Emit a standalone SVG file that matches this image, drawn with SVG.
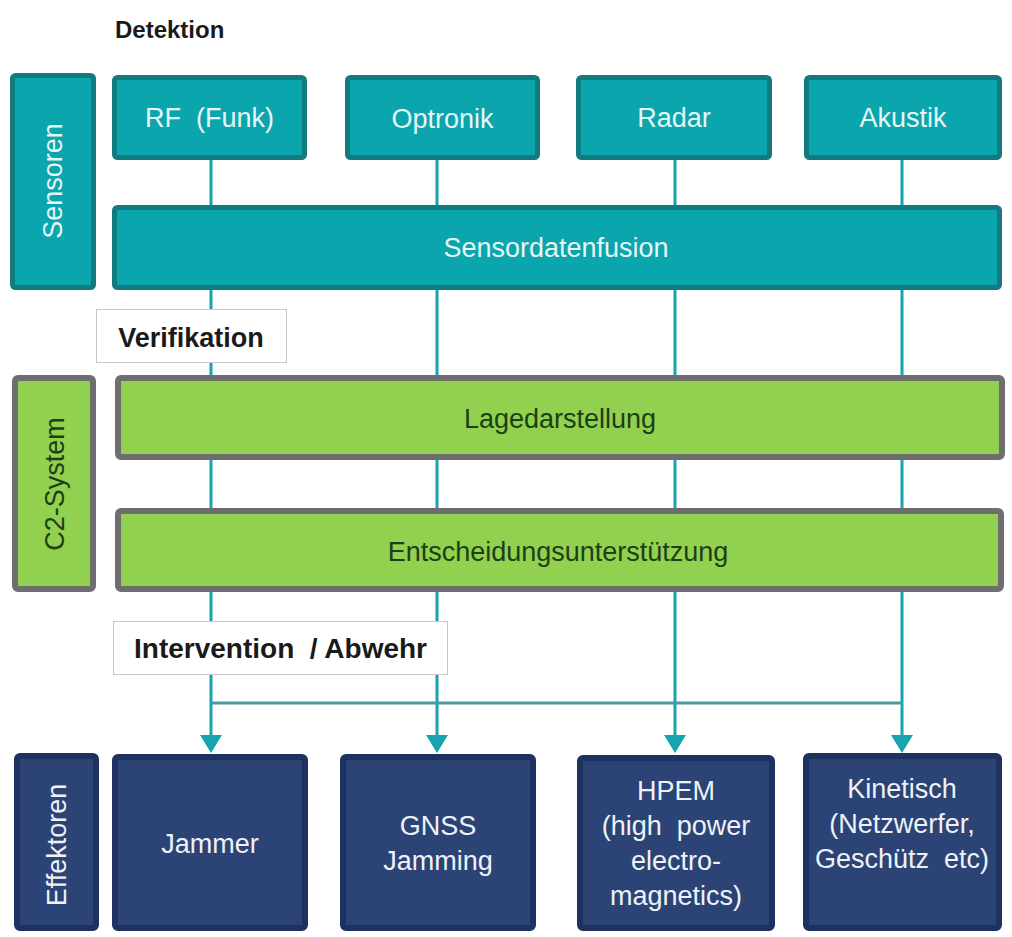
<svg xmlns="http://www.w3.org/2000/svg" width="1012" height="937" viewBox="0 0 1012 937">
<defs>
<style>
.bg{fill:#ffffff}
.teal{fill:#0aa5ad;stroke:#137b80;stroke-width:5}
.green{fill:#92d050;stroke:#6e6e6e;stroke-width:6}
.navy{fill:#2b4475;stroke:#1f3160;stroke-width:6}
.lbl{fill:#ffffff;stroke:#c8c8c8;stroke-width:1}
.t{font-family:"Liberation Sans",Arial,sans-serif;font-size:27px;text-anchor:middle}
.tw{fill:#e6f6f6}
.tg{fill:#1d3f16}
.tn{fill:#eef2f8}
.tb{font-family:"Liberation Sans",Arial,sans-serif;font-weight:bold;fill:#1a1a1a}
.conn{stroke:#17a3af;stroke-width:3;fill:none}
.bus{stroke:#4a9ca2;stroke-width:3;fill:none}
</style>
<marker id="arr" markerUnits="userSpaceOnUse" markerWidth="18" markerHeight="22" viewBox="0 0 18 22" refX="0" refY="11" orient="auto">
<path d="M0,0 L18,11 L0,22 z" fill="#17a3af"/>
</marker>
</defs>
<rect class="bg" x="0" y="0" width="1012" height="937"/>

<g id="connectors">
<line class="conn" x1="211" y1="160" x2="211" y2="735" marker-end="url(#arr)"/>
<line class="conn" x1="437" y1="160" x2="437" y2="735" marker-end="url(#arr)"/>
<line class="conn" x1="675" y1="160" x2="675" y2="735" marker-end="url(#arr)"/>
<line class="conn" x1="902" y1="160" x2="902" y2="735" marker-end="url(#arr)"/>
<line class="bus" x1="211" y1="703" x2="902" y2="703"/>
</g>

<g id="title-detektion"><text class="tb" x="115" y="38" font-size="24">Detektion</text></g>

<g id="side-sensoren">
<rect class="teal" x="12.5" y="75.5" width="81" height="212" rx="3"/>
<text class="t tw" transform="translate(62,181) rotate(-90)">Sensoren</text>
</g>
<g id="node-rf">
<rect class="teal" x="114.5" y="77.5" width="190" height="80" rx="3"/>
<text class="t tw" x="209.5" y="127" xml:space="preserve">RF  (Funk)</text>
</g>
<g id="node-optronik">
<rect class="teal" x="347.5" y="77.5" width="190" height="80" rx="3"/>
<text class="t tw" x="442.5" y="128">Optronik</text>
</g>
<g id="node-radar">
<rect class="teal" x="578.5" y="77.5" width="191" height="80" rx="3"/>
<text class="t tw" x="674" y="127">Radar</text>
</g>
<g id="node-akustik">
<rect class="teal" x="806.5" y="77.5" width="193" height="80" rx="3"/>
<text class="t tw" x="903" y="127">Akustik</text>
</g>
<g id="node-fusion">
<rect class="teal" x="114.5" y="207.5" width="885" height="80" rx="3"/>
<text class="t tw" x="556" y="257">Sensordatenfusion</text>
</g>

<g id="label-verifikation">
<rect class="lbl" x="96.5" y="309.5" width="190" height="53"/>
<text class="tb" x="191" y="347" font-size="27" text-anchor="middle">Verifikation</text>
</g>

<g id="side-c2">
<rect class="green" x="15" y="378" width="78" height="211" rx="3"/>
<text class="t tg" transform="translate(64,484) rotate(-90)">C2-System</text>
</g>
<g id="node-lage">
<rect class="green" x="118" y="378" width="884" height="79" rx="3"/>
<text class="t tg" x="560" y="428">Lagedarstellung</text>
</g>
<g id="node-entscheidung">
<rect class="green" x="118" y="511" width="883" height="78" rx="3"/>
<text class="t tg" x="558" y="561">Entscheidungsunterstützung</text>
</g>

<g id="label-intervention">
<rect class="lbl" x="113.5" y="621.5" width="334" height="53"/>
<text class="tb" x="280.5" y="658" font-size="28" text-anchor="middle" xml:space="preserve">Intervention  / Abwehr</text>
</g>

<g id="side-effektoren">
<rect class="navy" x="17" y="756" width="79" height="172" rx="3"/>
<text class="t tn" transform="translate(66,845) rotate(-90)">Effektoren</text>
</g>
<g id="node-jammer">
<rect class="navy" x="115" y="757" width="190" height="171" rx="3"/>
<text class="t tn" x="210" y="853">Jammer</text>
</g>
<g id="node-gnss">
<rect class="navy" x="343" y="757" width="190" height="171" rx="3"/>
<text class="t tn" x="438" y="835">GNSS</text>
<text class="t tn" x="438" y="870">Jamming</text>
</g>
<g id="node-hpem">
<rect class="navy" x="580" y="758" width="192" height="170" rx="3"/>
<text class="t tn" x="676" y="800">HPEM</text>
<text class="t tn" x="676" y="835" xml:space="preserve">(high  power</text>
<text class="t tn" x="676" y="870">electro-</text>
<text class="t tn" x="676" y="905">magnetics)</text>
</g>
<g id="node-kinetisch">
<rect class="navy" x="806" y="756" width="193" height="172" rx="3"/>
<text class="t tn" x="902" y="798">Kinetisch</text>
<text class="t tn" x="902" y="833">(Netzwerfer,</text>
<text class="t tn" x="902" y="868" xml:space="preserve">Geschütz  etc)</text>
</g>
</svg>
